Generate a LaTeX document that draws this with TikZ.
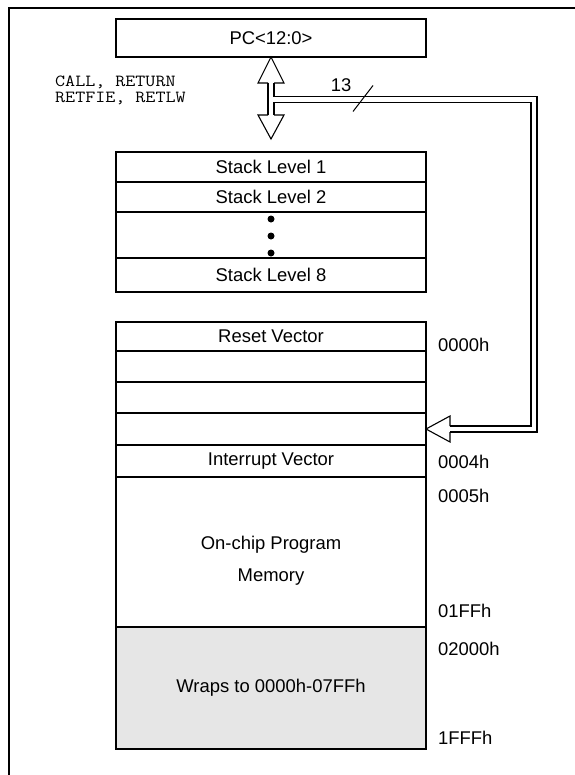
\documentclass[tikz,border=0pt]{standalone}
\usepackage{fontspec}
\setmainfont{Liberation Sans}
\usetikzlibrary{positioning,calc}
\definecolor{wrapfill}{HTML}{E6E6E6}
\tikzset{
  cell/.style={draw, line width=1.8bp, minimum width=310bp, inner sep=0pt,
    outer sep=0pt, font=\fontsize{18.5}{20}\selectfont},
  addr/.style={anchor=west, inner sep=0pt, font=\fontsize{18.5}{20}\selectfont},
  opcode/.style={anchor=base west, inner sep=0pt, font=\ttfamily\fontsize{17}{17}\selectfont},
  busline/.style={line width=1.3bp, line join=miter},
  head/.style={line width=1.1bp, line join=miter},
}

\begin{document}
\begin{tikzpicture}[x=1bp, y=-1bp]
  \useasboundingbox (0,0) rectangle (575,775);
  % frame
  \draw[line width=1.6bp] (9,775) -- (9,8) -- (575,8);

  % program counter
  \node[cell, minimum height=38bp] (pc) at (271,38) {PC<12:0>};

  % stack
  \node[cell, minimum height=30bp, anchor=north] (s1) at (271,152) {Stack Level 1};
  \node[cell, minimum height=30bp, below=0pt of s1] (s2) {Stack Level 2};
  \node[cell, minimum height=46bp, below=0pt of s2] (sdots) {};
  \node[cell, minimum height=34bp, below=0pt of sdots] (s8) {Stack Level 8};
  \foreach \d in {-16,1,18}
    \fill ($(sdots.center)+(0,\d)$) circle (3.5);

  % program memory
  \node[cell, minimum height=29bp, anchor=north] (reset) at (271,322) {Reset Vector};
  \node[cell, minimum height=31bp, below=0pt of reset] (m1) {};
  \node[cell, minimum height=31bp, below=0pt of m1] (m2) {};
  \node[cell, minimum height=32bp, below=0pt of m2] (m3) {};
  \node[cell, minimum height=32bp, below=0pt of m3] (intvec) {Interrupt Vector};
  \node[cell, minimum height=150bp, below=0pt of intvec] (prog) {};
  \node[align=center, inner sep=0pt, font=\fontsize{18.5}{32}\selectfont]
    (progtxt) at ($(prog.center)+(0,9)$) {On-chip Program\\Memory};
  \node[cell, fill=wrapfill, minimum height=122bp, below=0pt of prog] (wrap)
    {Wraps to 0000h-07FFh};

  % addresses
  \node[addr] (a0000) at (438,345) {0000h};
  \node[addr] (a0004) at (438,462) {0004h};
  \node[addr] (a0005) at (438,496) {0005h};
  \node[addr] (a01ff) at (438,611) {01FFh};
  \node[addr] (a2000) at (438,649) {02000h};
  \node[addr] (a1fff) at (438,738) {1FFFh};

  % instructions
  \node[opcode] (ops1) at (55,86) {\scalebox{1.15}[1]{CALL, RETURN}};
  \node[opcode] (ops2) at (55,102) {\scalebox{1.15}[1]{RETFIE, RETLW}};

  % double arrow between PC and stack
  \coordinate (tipup) at (pc.south);
  \coordinate (tipdn) at ($(pc.south)+(0,82)$);
  \coordinate (jn) at ($(pc.south)+(0,42.5)$);
  \coordinate (rc) at ($(jn)+(263,0)$);
  \draw[head] ($(tipup)+(-3,26)$) -- ++(-10,0) -- (tipup)
    -- ($(tipup)+(13,26)$) -- ++(-10,0);
  \draw[head] ($(tipdn)+(-3,-24)$) -- ++(-10,0) -- (tipdn)
    -- ($(tipdn)+(13,-24)$) -- ++(-10,0);
  \draw[busline] ($(tipup)+(-3,26)$) -- ($(tipdn)+(-3,-24)$);

  % 13-bit bus back to the vector table
  \draw[busline] ($(tipup)+(3,26)$) |- ($(rc)+(3,-3)$) |- ($(m3.east)+(24,3)$);
  \draw[busline] ($(tipdn)+(3,-24)$) |- ($(rc)+(-3,3)$) |- ($(m3.east)+(24,-3)$);
  \draw[head] ($(m3.east)+(24,-3)$) -- ++(0,-10) -- (m3.east)
    -- ($(m3.east)+(24,13)$) -- ++(0,-10);
  \node[inner sep=0pt, font=\fontsize{18.5}{20}\selectfont] (bw) at (341,85) {13};
  \draw[line width=1bp] ($(jn)+(82,12)$) -- ($(jn)+(102,-14)$);
\end{tikzpicture}
\end{document}
